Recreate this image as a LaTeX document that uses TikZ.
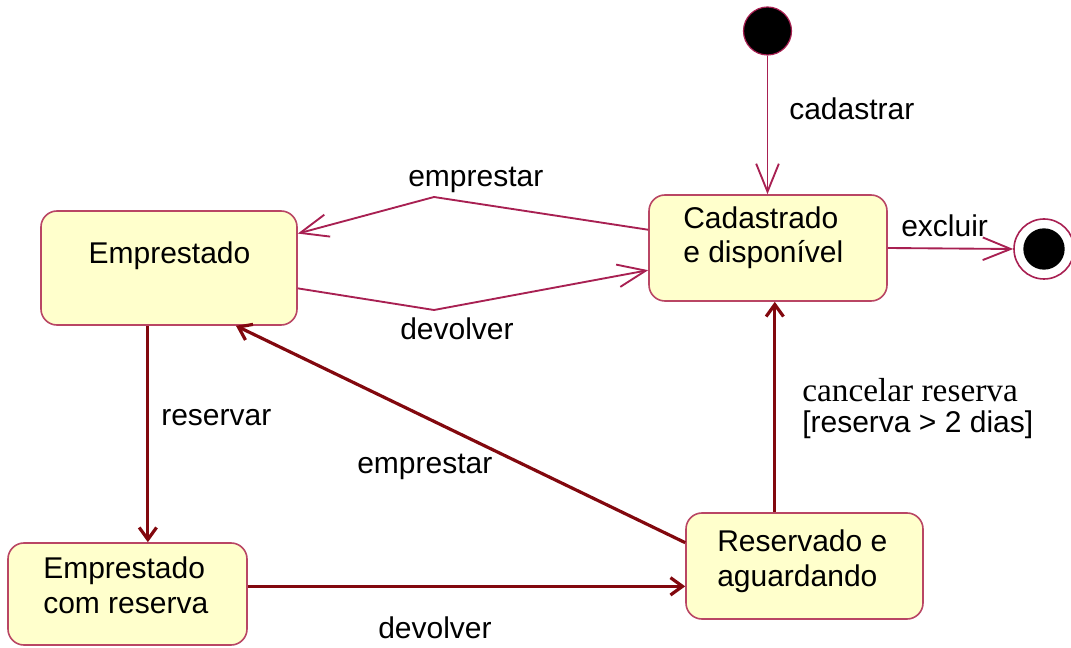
\documentclass[tikz,border=0pt]{standalone}
\usepackage{fontspec}
\setmainfont{Liberation Sans}
\newfontfamily\timesfam{Liberation Serif}
\usetikzlibrary{arrows.meta,calc,fit}
\definecolor{thinc}{RGB}{168,32,82}
\definecolor{boxc}{RGB}{185,70,100}
\definecolor{boxfill}{RGB}{255,255,204}
\definecolor{thickc}{RGB}{130,8,14}
\begin{document}
\begin{tikzpicture}[x=0.75pt,y=-0.75pt,
  font=\fontsize{22.5}{26}\selectfont,
  statebox/.style={draw=boxc, fill=boxfill, rounded corners=12pt, line width=1.2pt, inner sep=0pt},
  lbl/.style={anchor=base west, inner sep=0pt, text=black},
  multi/.style={anchor=base west, inner sep=0pt, align=left, text=black},
  thinarrow/.style={draw=thinc, line width=1.4pt, -{Straight Barb[length=21pt,width=17pt]}},
  thickarrow/.style={draw=thickc, line width=2.4pt, -{Straight Barb[length=9pt,width=13pt]}}]
\useasboundingbox (0,0) rectangle (1071,648);

% states
\node[statebox, fit={(41,211) (297,325)}] (emp) {};
\node[statebox, fit={(649,195) (887,301)}] (cad) {};
\node[statebox, fit={(8,543) (247,645)}] (erc) {};
\node[statebox, fit={(686,513) (923,619)}] (res) {};

\node[anchor=base, inner sep=0pt] (tEmp) at (169.5,264) {Emprestado};
\node[multi] (tCad) at (683,263) {Cadastrado\\e disponível};
\node[multi] (tErc) at (43,613) {Emprestado\\com reserva};
\node[multi] (tRes) at (717,586) {Reservado e\\aguardando};

% pseudo states
\node[circle, draw=thinc, fill=black, line width=0.9pt, minimum size=36pt, inner sep=0pt] (ini) at (767.5,31) {};
\node[circle, draw=thinc, fill=white, line width=1.2pt, minimum size=45pt, inner sep=0pt] (fin) at (1044,249) {};
\node[circle, fill=black, minimum size=31pt, inner sep=0pt] (finin) at (fin) {};

% bend points
\coordinate (b1) at (434,197);
\coordinate (b2) at (434,310);

% thin transitions
\draw[thinarrow] (ini) -- (ini |- cad.north);
\draw[thinarrow] (cad) -- (b1) -- (emp);
\draw[thinarrow] (emp) -- (b2) -- (cad);
\draw[thinarrow] (cad.east) -- (fin.west);

% thick transitions
\coordinate (pEmpS) at ($(emp.south west)!0.418!(emp.south east)$);
\draw[thickarrow] (pEmpS) -- (pEmpS |- erc.north);
\coordinate (pResW) at ($(res.north west)!0.689!(res.south west)$);
\draw[thickarrow] (erc.east |- pResW) -- (pResW);
\coordinate (pResW2) at ($(res.north west)!0.283!(res.south west)$);
\coordinate (pEmpS2) at ($(emp.south west)!0.76!(emp.south east)$);
\draw[thickarrow] (pResW2) -- (pEmpS2);
\coordinate (pResN) at ($(res.north west)!0.3755!(res.north east)$);
\draw[thickarrow] (pResN) -- (pResN |- cad.south);

% labels
\node[lbl] (lCad) at (789,120) {cadastrar};
\node[lbl] (lEmp1) at (408,187) {emprestar};
\node[lbl] (lDev1) at (400,340) {devolver};
\node[lbl] (lExc) at (901,237) {excluir};
\node[lbl] (lRes) at (161,426) {reservar};
\node[lbl] (lEmp2) at (357,474) {emprestar};
\node[lbl] (lDev2) at (378,638) {devolver};
\node[lbl, font=\timesfam\fontsize{25}{30}\selectfont] (lCan) at (802,402) {cancelar reserva};
\node[lbl] (lGuard) at (802,433) {[reserva > 2 dias]};
\end{tikzpicture}
\end{document}
